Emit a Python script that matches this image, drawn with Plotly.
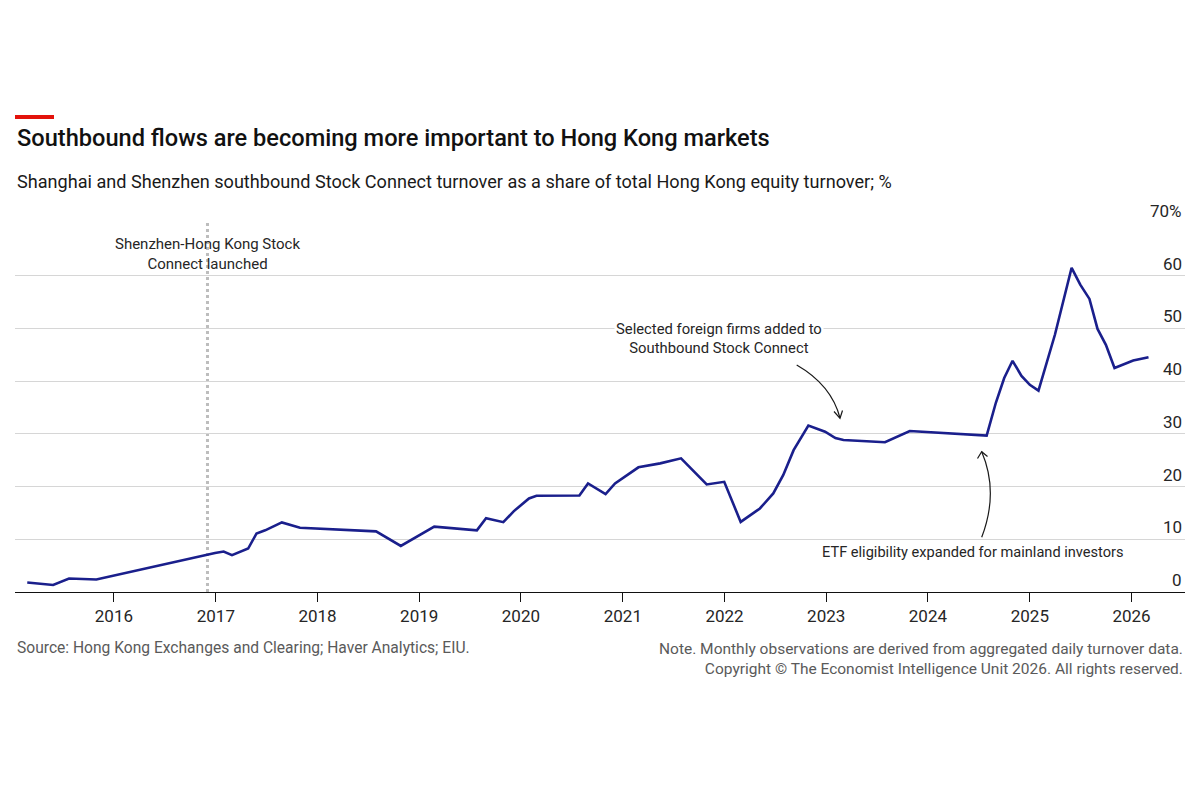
import plotly.graph_objects as go

# ---- data ----
dates = [
    "2015-02-24", "2015-05-28", "2015-07-24", "2015-10-30",
    "2016-12-29", "2017-01-29", "2017-02-28", "2017-04-27", "2017-05-27",
    "2017-06-27", "2017-08-26", "2017-10-30",
    "2018-07-30", "2018-10-27",
    "2019-02-24", "2019-07-27", "2019-08-29", "2019-10-30", "2019-12-06",
    "2020-01-30", "2020-02-26", "2020-07-29", "2020-08-29", "2020-10-31", "2020-12-04",
    "2021-02-26", "2021-05-15", "2021-07-29", "2021-10-29", "2021-12-31",
    "2022-02-28", "2022-05-08", "2022-06-25", "2022-07-31", "2022-09-06", "2022-10-29",
    "2022-12-28", "2023-02-03", "2023-03-04", "2023-07-31", "2023-10-28",
    "2024-07-30", "2024-09-01", "2024-10-01", "2024-10-31", "2024-12-02",
    "2025-01-01", "2025-02-01", "2025-04-01", "2025-05-31", "2025-07-01",
    "2025-08-03", "2025-09-01", "2025-10-01", "2025-11-01", "2025-12-02",
    "2026-01-07", "2026-03-03",
]
share = [
    1.8, 1.33, 2.55, 2.36,
    7.4, 7.68, 6.98, 8.25, 11.1,
    11.7, 13.2, 12.2,
    11.5, 8.75,
    12.4, 11.7, 14.0, 13.25, 15.3,
    17.75, 18.25, 18.3, 20.6, 18.57, 20.6,
    23.65, 24.4, 25.36, 20.4, 20.9,
    13.3, 15.85, 18.7, 22.2, 26.9, 31.56,
    30.4, 29.2, 28.84, 28.4, 30.55,
    29.66, 35.9, 40.6, 43.86, 41.0,
    39.3, 38.2, 48.8, 61.5, 58.3,
    55.6, 49.9, 46.9, 42.5, 43.2,
    43.9, 44.55,
]
year_ticks = ["2016-01-01", "2017-01-01", "2018-01-01", "2019-01-01", "2020-01-01",
              "2021-01-01", "2022-01-01", "2023-01-01", "2024-01-01", "2025-01-01",
              "2026-01-01"]
year_labels = ["2016", "2017", "2018", "2019", "2020", "2021", "2022", "2023",
               "2024", "2025", "2026"]
y_ticks = [0, 10, 20, 30, 40, 50, 60, 70]
y_labels = ["0", "10", "20", "30", "40", "50", "60", "70%"]
launch_date = "2016-12-02"

# ---- layout geometry ----
W, H = 1200, 800
L, R, T, B = 15, 15, 223, 208
PW, PH = W - L - R, H - T - B


def px(x):
    return (x - L) / PW


def py(y):
    return (H - B - y) / PH


FONT = "Roboto, 'Open Sans', sans-serif"
LINE = "#1a1f8c"
TXT = "#262626"

fig = go.Figure()
fig.add_trace(go.Scatter(
    x=dates, y=share, mode="lines",
    line=dict(color=LINE, width=2.6),
    hoverinfo="x+y", showlegend=False,
))

shapes = [
    # red bar
    dict(type="rect", xref="paper", yref="paper",
         x0=px(15), x1=px(54), y0=py(119), y1=py(115),
         fillcolor="#e3120b", line=dict(width=0)),
    # launch line
    dict(type="line", xref="x", yref="y", x0=launch_date, x1=launch_date,
         y0=0, y1=70, line=dict(color="#bdbdbd", width=3, dash="dot"), layer="below"),
    # arrow 1 curve
    dict(type="path", xref="paper", yref="paper",
         path=f"M {px(796.7)},{py(365)} Q {px(831.5)},{py(385)} {px(840)},{py(418)}",
         line=dict(color="#1a1a1a", width=1.2)),
    dict(type="path", xref="paper", yref="paper",
         path=f"M {px(834)},{py(411.5)} L {px(840)},{py(418.3)} L {px(842.5)},{py(410.5)}",
         line=dict(color="#1a1a1a", width=1.2)),
    # arrow 2 curve
    dict(type="path", xref="paper", yref="paper",
         path=f"M {px(981.7)},{py(537.3)} Q {px(999)},{py(492)} {px(981.7)},{py(451.7)}",
         line=dict(color="#1a1a1a", width=1.2)),
    dict(type="path", xref="paper", yref="paper",
         path=f"M {px(977.5)},{py(458.5)} L {px(981.7)},{py(451.7)} L {px(987.5)},{py(456.5)}",
         line=dict(color="#1a1a1a", width=1.2)),
]

ann = []
# title & subtitle
ann.append(dict(xref="paper", yref="paper", x=0, y=py(138), xanchor="left", yanchor="middle",
                text="Southbound flows are becoming more important to Hong Kong markets",
                showarrow=False, font=dict(family=FONT, size=23.6, color="#111111", weight=500)))
ann.append(dict(xref="paper", yref="paper", x=0, y=py(181), xanchor="left", yanchor="middle",
                text="Shanghai and Shenzhen southbound Stock Connect turnover as a share of total Hong Kong equity turnover; %",
                showarrow=False, font=dict(family=FONT, size=18.1, color="#1a1a1a")))
# y labels
for v, lab in zip(y_ticks, y_labels):
    ann.append(dict(xref="paper", yref="y", x=1, y=v, xanchor="right", yanchor="bottom",
                    text=lab, showarrow=False, xshift=-1,
                    font=dict(family=FONT, size=17, color=TXT)))
# event annotations
ann.append(dict(xref="paper", yref="paper", x=px(207.5), y=py(254), xanchor="center",
                yanchor="middle", text="Shenzhen-Hong Kong Stock<br>Connect launched",
                showarrow=False, align="center",
                font=dict(family=FONT, size=15, color=TXT)))
ann.append(dict(xref="paper", yref="paper", x=px(719), y=py(338), xanchor="center",
                yanchor="middle", text="Selected foreign firms added to<br>Southbound Stock Connect",
                showarrow=False, align="center", bgcolor="white",
                font=dict(family=FONT, size=14.8, color=TXT)))
ann.append(dict(xref="paper", yref="paper", x=px(972.5), y=py(552), xanchor="center",
                yanchor="middle", text="ETF eligibility expanded for mainland investors",
                showarrow=False, align="center",
                font=dict(family=FONT, size=14.6, color=TXT)))
# footer
ann.append(dict(xref="paper", yref="paper", x=0, y=py(648), xanchor="left", yanchor="middle",
                text="Source: Hong Kong Exchanges and Clearing; Haver Analytics; EIU.",
                showarrow=False, font=dict(family=FONT, size=15.6, color="#5a5a5a")))
ann.append(dict(xref="paper", yref="paper", x=1, y=py(659), xanchor="right", yanchor="middle",
                text="Note. Monthly observations are derived from aggregated daily turnover data.<br>"
                     "Copyright © The Economist Intelligence Unit 2026. All rights reserved.",
                showarrow=False, align="right",
                font=dict(family=FONT, size=15.5, color="#5a5a5a")))

fig.update_layout(
    width=W, height=H,
    margin=dict(l=L, r=R, t=T, b=B, pad=0),
    paper_bgcolor="white", plot_bgcolor="white",
    shapes=shapes, annotations=ann,
    xaxis=dict(
        type="date", range=["2015-01-11", "2026-07-12"],
        tickvals=year_ticks, ticktext=year_labels,
        showline=True, linecolor="#111111", linewidth=1,
        ticks="outside", ticklen=9, tickcolor="#111111", tickwidth=1,
        showgrid=False, zeroline=False,
        tickfont=dict(family=FONT, size=17, color=TXT),
        fixedrange=True,
    ),
    yaxis=dict(
        range=[0, 70], tickvals=y_ticks[1:], showticklabels=False,
        showgrid=True, gridcolor="#d6d6d6", gridwidth=1,
        zeroline=False, showline=False, ticks="", fixedrange=True,
    ),
)

fig.write_html("out.html")
